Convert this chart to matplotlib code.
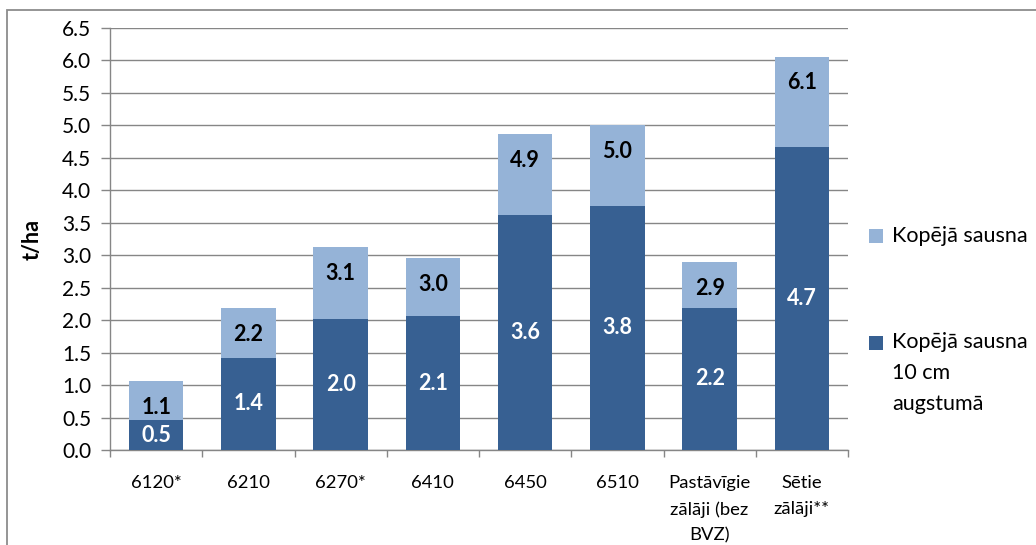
import matplotlib
matplotlib.use("Agg")
import matplotlib.pyplot as plt
from matplotlib.patches import Rectangle
from matplotlib.ticker import FixedLocator, FormatStrFormatter
import numpy as np

# Habitat / grassland categories
categories = ["6120*", "6210", "6270*", "6410", "6450", "6510",
              "Pastāvīgie\nzālāji (bez\nBVZ)", "Sētie\nzālāji**"]
# Total dry matter (t/ha)
total_dm = [1.06, 2.18, 3.12, 2.96, 4.86, 5.00, 2.89, 6.06]
# Dry matter above 10 cm height (t/ha)
above_10cm = [0.46, 1.42, 2.02, 2.06, 3.62, 3.76, 2.19, 4.67]
legend_labels = ["Kopējā sausna", "Kopējā sausna\n10 cm\naugstumā"]
y_label = "t/ha"

LIGHT = "#95B3D7"
DARK = "#376092"
GRID = "#868686"
FONT = "Lato"

plt.rcParams["font.family"] = [FONT, "DejaVu Sans"]

W, H = 1036, 545
fig = plt.figure(figsize=(W / 100, H / 100), dpi=100)
fig.patch.set_facecolor("white")


def fx(px):
    return px / W


def fy(py):
    return 1 - py / H


ax = fig.add_axes([fx(110), fy(450), fx(848) - fx(110), fy(28) - fy(450)])

x = np.arange(len(categories))
width = 0.59
ax.bar(x, total_dm, width, color=LIGHT, zorder=2, label=legend_labels[0])
ax.bar(x, above_10cm, width, color=DARK, zorder=3, label=legend_labels[1])

# value labels: total just inside the bar top, upper part centred
for xi, v in zip(x, total_dm):
    ax.annotate(f"{v:.1f}", (xi, v), xytext=(0, -19), textcoords="offset points",
                ha="center", va="center", fontsize=15.5, fontweight="bold",
                color="black", zorder=4)
for xi, v in zip(x, above_10cm):
    ax.text(xi, v / 2, f"{v:.1f}", ha="center", va="center", fontsize=15.5,
            fontweight="bold", color="white", zorder=4)

ax.set_xlim(-0.5, len(categories) - 0.5)
ax.set_ylim(0, 6.5)
ax.yaxis.set_major_locator(FixedLocator(np.arange(0, 6.51, 0.5)))
ax.yaxis.set_major_formatter(FormatStrFormatter("%.1f"))
ax.grid(axis="y", color=GRID, linewidth=1.0, zorder=0)
ax.set_axisbelow(True)

ax.set_xticks(x)
ax.set_xticklabels(categories, fontsize=13.3, va="top")
for lbl in ax.get_xticklabels():
    lbl.set_linespacing(1.75)
ax.xaxis.set_minor_locator(FixedLocator(np.arange(-0.5, len(categories), 1.0)))
ax.tick_params(axis="x", which="major", length=0, pad=18)
ax.tick_params(axis="x", which="minor", length=5, color=GRID, width=1)
ax.tick_params(axis="y", length=6.5, color=GRID, width=1, labelsize=15, pad=7)

for side in ("top", "right"):
    ax.spines[side].set_visible(False)
for side in ("left", "bottom"):
    ax.spines[side].set_color(GRID)
    ax.spines[side].set_linewidth(1.0)

fig.text(fx(32), fy(240), y_label, rotation=90, ha="center", va="center",
         fontsize=15.5, fontweight="bold")

# legend drawn in figure pixel space
for color, ycen in zip([LIGHT, DARK], [236, 343]):
    fig.add_artist(Rectangle((fx(869), fy(ycen + 7)), fx(14), 14 / H,
                             transform=fig.transFigure, facecolor=color,
                             edgecolor="none"))
fig.text(fx(892), fy(236), legend_labels[0], ha="left", va="center", fontsize=15.5)
fig.text(fx(892), fy(373), legend_labels[1], ha="left", va="center", fontsize=15.5,
         linespacing=1.7)

# chart outer border
fig.add_artist(Rectangle((fx(7), fy(600)), fx(1100), (600 - 10) / H,
                         transform=fig.transFigure, facecolor="none",
                         edgecolor="#8C8C8C", linewidth=1.3))

fig.savefig("out.png", dpi=100)
